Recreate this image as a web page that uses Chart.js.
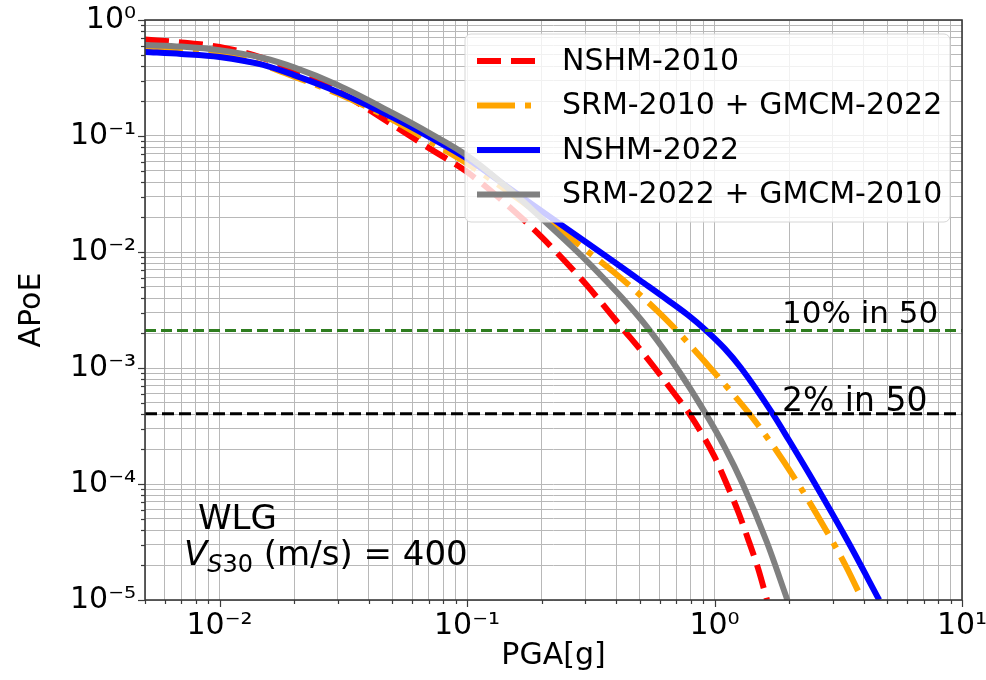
<!DOCTYPE html>
<html>
<head>
<meta charset="utf-8">
<title>Hazard curves WLG</title>
<script src="https://cdn.jsdelivr.net/npm/chart.js@4/dist/chart.umd.min.js"></script>
<style>
  html, body { margin: 0; padding: 0; background: #ffffff; }
  #wrap { width: 986px; height: 680px; position: relative; }
</style>
</head>
<body>
<div id="wrap"><canvas id="chart" width="986" height="680"></canvas></div>
<script>
// Seismic hazard curves, Wellington (WLG), Vs30 = 400 m/s
// PGA in g, annual probability of exceedance (APoE)

const pgaNshm2010 = [0.005, 0.007, 0.01, 0.015, 0.02, 0.03, 0.05, 0.07, 0.1, 0.15, 0.2, 0.3, 0.342, 0.43, 0.5, 0.574, 0.7, 0.79, 1.0, 1.12, 1.25, 1.38, 1.5, 1.63];
const apoeNshm2010 = [0.68, 0.64, 0.585, 0.47, 0.37, 0.245, 0.125, 0.079, 0.049, 0.024, 0.0135, 0.00537, 0.00386, 0.00213, 0.00145, 0.001, 0.000574, 0.000406, 0.000172, 0.0001, 0.0000568, 0.0000316, 0.0000187, 0.00001];

const pgaSrm2010Gmcm2022 = [0.005, 0.007, 0.01, 0.015, 0.02, 0.03, 0.05, 0.07, 0.1, 0.15, 0.2, 0.3, 0.4, 0.527, 0.6, 0.7, 0.962, 1.2, 1.38, 1.7, 2.18, 2.8, 3.4, 3.96];
const apoeSrm2010Gmcm2022 = [0.58, 0.55, 0.51, 0.41, 0.325, 0.232, 0.138, 0.091, 0.058, 0.032, 0.0204, 0.0105, 0.00646, 0.00386, 0.00297, 0.00213, 0.001, 0.000582, 0.000406, 0.000223, 0.0001, 0.0000412, 0.0000195, 0.00001];

const pgaNshm2022 = [0.005, 0.007, 0.01, 0.015, 0.02, 0.03, 0.05, 0.07, 0.1, 0.15, 0.2, 0.3, 0.4, 0.5, 0.646, 0.78, 0.92, 1.1, 1.28, 1.715, 2.0, 2.55, 3.47, 4.63];
const apoeNshm2022 = [0.53, 0.51, 0.48, 0.41, 0.335, 0.24, 0.145, 0.099, 0.064, 0.0348, 0.0226, 0.0123, 0.0080, 0.0057, 0.00386, 0.00287, 0.00213, 0.00147, 0.001, 0.000406, 0.000238, 0.0001, 0.0000316, 0.00001];

const pgaSrm2022Gmcm2010 = [0.005, 0.007, 0.01, 0.015, 0.02, 0.03, 0.05, 0.07, 0.1, 0.15, 0.2, 0.3, 0.4, 0.431, 0.49, 0.545, 0.704, 0.92, 1.1, 1.3, 1.627, 1.97];
const apoeSrm2022Gmcm2010 = [0.61, 0.59, 0.55, 0.47, 0.39, 0.275, 0.158, 0.107, 0.068, 0.034, 0.0195, 0.00865, 0.00459, 0.00386, 0.00282, 0.00213, 0.001, 0.000406, 0.000207, 0.0001, 0.0000316, 0.00001];

// Design levels: 10% and 2% probability of exceedance in 50 years
const apoe10in50 = 0.0021;
const apoe2in50 = 0.000404;

// Axis extents and decade tick labels
const pgaRange = [0.005, 10];
const apoeRange = [1e-5, 1];
const xTickValues = [0.01, 0.1, 1, 10];
const xTickLabels = ['10\u207B\u00B2', '10\u207B\u00B9', '10\u2070', '10\u00B9'];
const yTickValues = [1e-5, 1e-4, 1e-3, 1e-2, 1e-1, 1];
const yTickLabels = ['10\u207B\u2075', '10\u207B\u2074', '10\u207B\u00B3', '10\u207B\u00B2', '10\u207B\u00B9', '10\u2070'];

const FONT = "'DejaVu Sans', 'Liberation Sans', sans-serif";

function toPoints(xs, ys) { return xs.map((x, i) => ({ x: x, y: ys[i] })); }

// 1..9 x 10^n ticks spanning [min, max]
function logTicks(min, max) {
  const out = [];
  for (let e = Math.floor(Math.log10(min)); e <= Math.ceil(Math.log10(max)); e++) {
    for (let d = 1; d <= 9; d++) {
      const v = +(d * Math.pow(10, e)).toPrecision(6);
      if (v >= min * 0.9999 && v <= max * 1.0001) out.push(v);
    }
  }
  return out;
}
function isDecade(v) { const l = Math.log10(v); return Math.abs(l - Math.round(l)) < 1e-9; }
function labelFor(values, labels, v) {
  const i = values.findIndex(t => Math.abs(t - v) / t < 1e-6);
  return i >= 0 ? labels[i] : '';
}

function curve(label, xs, ys, color, dash, width, order) {
  return {
    label: label,
    data: toPoints(xs, ys),
    borderColor: color,
    backgroundColor: color,
    borderWidth: width,
    borderDash: dash,
    borderCapStyle: 'butt',
    pointRadius: 0,
    pointHoverRadius: 0,
    showLine: true,
    fill: false,
    cubicInterpolationMode: 'monotone',
    order: order
  };
}
function hline(label, y, color, dash, width) {
  return {
    label: label,
    data: [{ x: pgaRange[0], y: y }, { x: pgaRange[1], y: y }],
    borderColor: color,
    borderWidth: width,
    borderDash: dash,
    borderCapStyle: 'butt',
    pointRadius: 0,
    showLine: true,
    fill: false,
    order: 0,
    isReference: true
  };
}

const datasets = [
  curve('NSHM-2010', pgaNshm2010, apoeNshm2010, '#ff0000', [24, 10], 6, 4),
  curve('SRM-2010 + GMCM-2022', pgaSrm2010Gmcm2022, apoeSrm2010Gmcm2022, '#ffa500', [38, 10, 6, 10], 6, 3),
  curve('NSHM-2022', pgaNshm2022, apoeNshm2022, '#0000ff', [], 6, 2),
  curve('SRM-2022 + GMCM-2010', pgaSrm2022Gmcm2010, apoeSrm2022Gmcm2010, '#808080', [], 6, 1),
  hline('10% in 50', apoe10in50, '#2e7d1f', [11, 5], 3),
  hline('2% in 50', apoe2in50, '#000000', [12, 5], 3)
];

// Frame, tick marks, text notes and the boxed legend
const decorations = {
  id: 'decorations',
  afterDatasetsDraw(chart) {
    const ctx = chart.ctx;
    const a = chart.chartArea;
    const sx = chart.scales.x, sy = chart.scales.y;
    ctx.save();

    // tick marks (outside) and frame
    ctx.strokeStyle = '#3a3a3a';
    ctx.lineWidth = 1.2;
    sx.ticks.forEach(t => {
      const px = Math.round(sx.getPixelForValue(t.value)) + 0.5;
      const len = isDecade(t.value) ? 7 : 4;
      ctx.beginPath(); ctx.moveTo(px, a.bottom); ctx.lineTo(px, a.bottom + len); ctx.stroke();
    });
    sy.ticks.forEach(t => {
      const py = Math.round(sy.getPixelForValue(t.value)) + 0.5;
      const len = isDecade(t.value) ? 7 : 4;
      ctx.beginPath(); ctx.moveTo(a.left, py); ctx.lineTo(a.left - len, py); ctx.stroke();
    });
    ctx.lineWidth = 1.6;
    ctx.strokeRect(a.left, a.top, a.right - a.left, a.bottom - a.top);

    // design-level notes
    ctx.fillStyle = '#000000';
    ctx.textAlign = 'left';
    ctx.textBaseline = 'alphabetic';
    ctx.font = '31px ' + FONT;
    ctx.fillText('10% in 50', a.left + 637, sy.getPixelForValue(apoe10in50) - 8);
    ctx.font = '33px ' + FONT;
    ctx.fillText('2% in 50', a.left + 637, sy.getPixelForValue(apoe2in50) - 3);

    // site note
    ctx.font = '34px ' + FONT;
    ctx.fillText('WLG', a.left + 53, a.top + 509);
    let x = a.left + 39;
    const base = a.top + 545;
    ctx.font = 'italic 34px ' + FONT;
    ctx.fillText('V', x, base);
    x += ctx.measureText('V').width;
    ctx.font = 'italic 24px ' + FONT;
    ctx.fillText('S', x, base + 7);
    x += ctx.measureText('S').width;
    ctx.font = '24px ' + FONT;
    ctx.fillText('30', x, base + 7);
    x += ctx.measureText('30').width;
    ctx.font = '34px ' + FONT;
    ctx.fillText(' (m/s) = 400', x, base);

    // legend box
    const curves = chart.data.datasets.filter(d => !d.isReference);
    const bw = 485, bh = 188;
    const bx = a.right - 12 - bw, by = a.top + 14;
    ctx.beginPath();
    ctx.roundRect(bx, by, bw, bh, 6);
    ctx.fillStyle = 'rgba(255,255,255,0.8)';
    ctx.fill();
    ctx.strokeStyle = '#d6d6d6';
    ctx.lineWidth = 1;
    ctx.stroke();
    curves.forEach((d, i) => {
      const cy = by + 27 + i * 44.5;
      ctx.save();
      ctx.strokeStyle = d.borderColor;
      ctx.lineWidth = d.borderWidth;
      ctx.lineCap = 'butt';
      ctx.setLineDash(d.borderDash || []);
      ctx.beginPath();
      ctx.moveTo(bx + 12, cy);
      ctx.lineTo(bx + 75, cy);
      ctx.stroke();
      ctx.restore();
      ctx.fillStyle = '#000000';
      ctx.font = '30px ' + FONT;
      ctx.textBaseline = 'middle';
      ctx.fillText(d.label, bx + 97, cy + 1);
    });
    ctx.restore();
  }
};

new Chart(document.getElementById('chart'), {
  type: 'scatter',
  data: { datasets: datasets },
  options: {
    responsive: false,
    animation: false,
    events: [],
    layout: { padding: { left: 0, right: 24, top: 20, bottom: 0 } },
    plugins: {
      legend: { display: false },
      tooltip: { enabled: false }
    },
    scales: {
      x: {
        type: 'logarithmic',
        min: pgaRange[0],
        max: pgaRange[1],
        afterBuildTicks(scale) { scale.ticks = logTicks(pgaRange[0], pgaRange[1]).map(v => ({ value: v })); },
        afterFit(scale) {
          scale.height = 80;
          scale.paddingLeft = 0;
          scale.paddingRight = 0;
        },
        grid: { color: '#b8b8b8', lineWidth: 1, drawTicks: false },
        border: { display: false },
        ticks: {
          autoSkip: false,
          maxRotation: 0,
          padding: 8,
          color: '#000000',
          font: { family: FONT, size: 30 },
          callback: v => labelFor(xTickValues, xTickLabels, v)
        },
        title: {
          display: true,
          text: 'PGA[g]',
          color: '#000000',
          font: { family: FONT, size: 30 },
          padding: { top: 0, bottom: 6 }
        }
      },
      y: {
        type: 'logarithmic',
        min: apoeRange[0],
        max: apoeRange[1],
        afterBuildTicks(scale) { scale.ticks = logTicks(apoeRange[0], apoeRange[1]).map(v => ({ value: v })); },
        afterFit(scale) {
          scale.width = 145;
          scale.paddingTop = 0;
          scale.paddingBottom = 0;
        },
        grid: { color: '#b8b8b8', lineWidth: 1, drawTicks: false },
        border: { display: false },
        ticks: {
          autoSkip: false,
          padding: 9,
          color: '#000000',
          font: { family: FONT, size: 30 },
          callback: v => labelFor(yTickValues, yTickLabels, v)
        },
        title: {
          display: true,
          text: 'APoE',
          color: '#000000',
          font: { family: FONT, size: 30 },
          padding: { top: 14, bottom: 0 }
        }
      }
    }
  },
  plugins: [decorations]
});
</script>
</body>
</html>
